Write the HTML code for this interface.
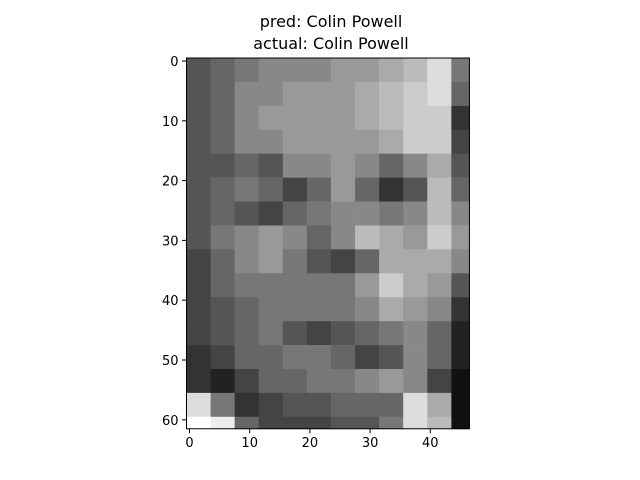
<!DOCTYPE html>
<html><head><meta charset="utf-8"><style>
body{margin:0;background:#fff}
svg{display:block;font-family:"DejaVu Sans","Liberation Sans",sans-serif}
</style></head><body>
<svg id="chart" width="640" height="480">
<text x="331" y="27" text-anchor="middle" font-size="16">pred: Colin Powell</text>
<text x="331" y="49" text-anchor="middle" font-size="16">actual: Colin Powell</text>
<g id="cells"></g>
<g id="axes"></g>
</svg>
<script>
const nRows = 62;
const nCols = 47;
const block = 4;
const grayRows = [
"56788899abd7",
"5688999abcd6",
"5689999abcc3",
"56889999acc4",
"5565889868a5",
"5676469635b6",
"5654678878b8",
"5789868ba9c9",
"46897546aaa8",
"46777779ca95",
"45677778a983",
"456754567862",
"346677645862",
"324667789841",
"d73455666da1",
"fe6444557db1"
];
const xTicks = [0,10,20,30,40];
const yTicks = [0,10,20,30,40,50,60];

const svg = document.getElementById('chart');
const NS = 'http://www.w3.org/2000/svg';
const xs = v => 189.5 + v * 6.02;
const ys = v => 61 + v * 5.98;

const cells = document.getElementById('cells');
grayRows.forEach((row, r) => {
  row.split('').forEach((ch, c) => {
    const v = parseInt(ch, 16) * 17;
    const x0 = xs(c * block - 0.5), x1 = xs(Math.min(c * block + block - 0.5, nCols - 0.5));
    const y0 = ys(r * block - 0.5), y1 = ys(Math.min(r * block + block - 0.5, nRows - 0.5));
    const el = document.createElementNS(NS, 'rect');
    el.setAttribute('x', x0); el.setAttribute('y', y0);
    el.setAttribute('width', x1 - x0 + 0.3); el.setAttribute('height', y1 - y0 + 0.3);
    el.setAttribute('fill', `rgb(${v},${v},${v})`);
    
    
    cells.appendChild(el);
  });
});

const axes = document.getElementById('axes');
const frame = document.createElementNS(NS, 'rect');
frame.setAttribute('x', xs(-0.5)); frame.setAttribute('y', ys(-0.5));
frame.setAttribute('width', xs(nCols - 0.5) - xs(-0.5));
frame.setAttribute('height', ys(nRows - 0.5) - ys(-0.5));
frame.setAttribute('fill', 'none'); frame.setAttribute('stroke', '#000');


axes.appendChild(frame);
const bottom = ys(nRows - 0.5), left = xs(-0.5);
xTicks.forEach(t => {
  const l = document.createElementNS(NS, 'line');
  l.setAttribute('x1', xs(t)); l.setAttribute('x2', xs(t));
  l.setAttribute('y1', bottom); l.setAttribute('y2', bottom + 4.5);
  l.setAttribute('stroke', '#000');
  
  
  axes.appendChild(l);
  const tx = document.createElementNS(NS, 'text');
  tx.setAttribute('x', xs(t)); tx.setAttribute('y', bottom + 18);
  tx.setAttribute('text-anchor', 'middle'); tx.setAttribute('font-size', '13');
  tx.textContent = t;
  
  
  axes.appendChild(tx);
});
yTicks.forEach(t => {
  const l = document.createElementNS(NS, 'line');
  l.setAttribute('x1', left - 4.5); l.setAttribute('x2', left);
  l.setAttribute('y1', ys(t)); l.setAttribute('y2', ys(t));
  l.setAttribute('stroke', '#000');
  
  
  axes.appendChild(l);
  const tx = document.createElementNS(NS, 'text');
  tx.setAttribute('x', left - 8); tx.setAttribute('y', ys(t) + 5);
  tx.setAttribute('text-anchor', 'end'); tx.setAttribute('font-size', '13');
  tx.textContent = t;
  
  
  axes.appendChild(tx);
});
</script>
</body></html>
